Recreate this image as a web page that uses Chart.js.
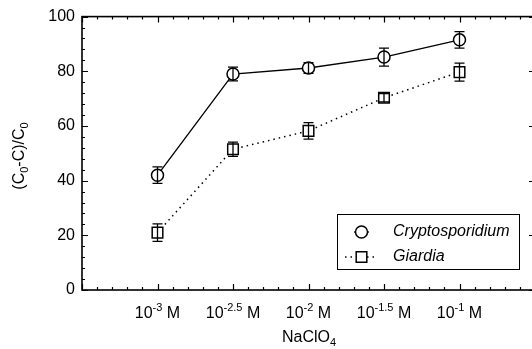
<!DOCTYPE html>
<html>
<head>
<meta charset="utf-8">
<script src="https://cdn.jsdelivr.net/npm/chart.js@4"></script>
<style>
html,body{margin:0;padding:0;background:#fff;overflow:hidden;}
#wrap{width:545px;height:349px;}
</style>
</head>
<body>
<div id="wrap"><canvas id="c" width="545" height="349"></canvas></div>
<script>
// ---- data ----
const xExponents = [-3, -2.5, -2, -1.5, -1];
const xTickLabels = ['-3', '-2.5', '-2', '-1.5', '-1'];
const cryptoValues = [42, 79, 81.2, 85.2, 91.5];
const cryptoErrors = [3, 2.5, 2, 3.3, 3];
const giardiaValues = [21, 51.5, 58.2, 70.3, 79.7];
const giardiaErrors = [3.2, 2.6, 3, 1.5, 3.3];
const seriesNames = ['Cryptosporidium', 'Giardia'];
const yTicks = [0, 20, 40, 60, 80, 100];

const FONT = '"Liberation Sans", Arial, sans-serif';

function pts(vals){ return xExponents.map((x,i)=>({x:x, y:vals[i]})); }

const errorsByDataset = [cryptoErrors, giardiaErrors];

const axesPlugin = {
  id: 'axesPlugin',
  afterDatasetsDraw(chart){
    const ctx = chart.ctx;
    const xs = chart.scales.x, ys = chart.scales.y;
    ctx.save();
    ctx.strokeStyle = '#000';
    ctx.lineWidth = 1.3;
    chart.data.datasets.forEach((ds, di) => {
      const errs = errorsByDataset[di];
      ds.data.forEach((p, i) => {
        const px = xs.getPixelForValue(p.x);
        const yt = ys.getPixelForValue(p.y + errs[i]);
        const yb = ys.getPixelForValue(p.y - errs[i]);
        ctx.beginPath();
        ctx.moveTo(px, yt); ctx.lineTo(px, yb);
        ctx.moveTo(px - 5, yt); ctx.lineTo(px + 5, yt);
        ctx.moveTo(px - 5, yb); ctx.lineTo(px + 5, yb);
        ctx.stroke();
      });
    });
    ctx.restore();
  },
  afterDraw(chart){
    const ctx = chart.ctx;
    const a = chart.chartArea;
    const xs = chart.scales.x, ys = chart.scales.y;
    ctx.save();
    ctx.strokeStyle = '#000';
    ctx.fillStyle = '#000';
    ctx.lineWidth = 1.6;
    ctx.strokeRect(a.left, a.top, a.right - a.left, a.bottom - a.top);
    ctx.lineWidth = 1.2;
    ctx.beginPath();
    for (let v = 0; v <= 100; v += 4) {
      const y = Math.round(ys.getPixelForValue(v)) + 0.5;
      const len = (v % 20 === 0) ? 6 : 3;
      ctx.moveTo(a.left, y); ctx.lineTo(a.left + len, y);
      ctx.moveTo(a.right, y); ctx.lineTo(a.right - len, y);
    }
    for (let k = -35; k <= -5; k++) {
      const x = Math.round(xs.getPixelForValue(k / 10)) + 0.5;
      const len = (k % 5 === 0) ? 6 : 3;
      ctx.moveTo(x, a.bottom); ctx.lineTo(x, a.bottom - len);
      ctx.moveTo(x, a.top); ctx.lineTo(x, a.top + len);
    }
    ctx.stroke();

    const base = 318;
    xExponents.forEach((xv, i) => {
      const cx = xs.getPixelForValue(xv);
      ctx.font = '16px ' + FONT;
      const w10 = ctx.measureText('10').width;
      ctx.font = '11px ' + FONT;
      const wexp = ctx.measureText(xTickLabels[i]).width;
      ctx.font = '16px ' + FONT;
      const wM = ctx.measureText(' M').width;
      const total = w10 + wexp + wM;
      let x0 = cx - total / 2;
      ctx.textAlign = 'left';
      ctx.textBaseline = 'alphabetic';
      ctx.font = '16px ' + FONT;
      ctx.fillText('10', x0, base);
      ctx.font = '11px ' + FONT;
      ctx.fillText(xTickLabels[i], x0 + w10, base - 7);
      ctx.font = '16px ' + FONT;
      ctx.fillText(' M', x0 + w10 + wexp, base);
    });

    ctx.font = '16px ' + FONT;
    const wN = ctx.measureText('NaClO').width;
    ctx.font = '11px ' + FONT;
    const w4 = ctx.measureText('4').width;
    const tx0 = 309 - (wN + w4) / 2;
    ctx.font = '16px ' + FONT;
    ctx.fillText('NaClO', tx0, 342);
    ctx.font = '11px ' + FONT;
    ctx.fillText('4', tx0 + wN, 346);

    ctx.save();
    ctx.translate(24, 156);
    ctx.rotate(-Math.PI / 2);
    const parts = [['(C',16,0],['0',11,4],['-C)/C',16,0],['0',11,4]];
    let tw = 0;
    parts.forEach(p => { ctx.font = p[1] + 'px ' + FONT; tw += ctx.measureText(p[0]).width; });
    let px = -tw / 2;
    parts.forEach(p => {
      ctx.font = p[1] + 'px ' + FONT;
      ctx.fillText(p[0], px, p[2]);
      px += ctx.measureText(p[0]).width;
    });
    ctx.restore();

    ctx.lineWidth = 1;
    ctx.strokeRect(337.5, 214.5, 182, 55);
    const rows = [
      {y: 232, name: seriesNames[0], ds: chart.data.datasets[0], x1: 354, x2: 369},
      {y: 257, name: seriesNames[1], ds: chart.data.datasets[1], x1: 345, x2: 377}
    ];
    rows.forEach(r => {
      ctx.save();
      ctx.lineWidth = r.ds.borderWidth;
      ctx.setLineDash(r.ds.borderDash || []);
      ctx.beginPath();
      ctx.moveTo(r.x1, r.y); ctx.lineTo(r.x2, r.y);
      ctx.stroke();
      ctx.restore();
      ctx.save();
      ctx.fillStyle = '#fff';
      ctx.strokeStyle = '#000';
      ctx.lineWidth = r.ds.pointBorderWidth;
      ctx.beginPath();
      if (r.ds.pointStyle === 'circle') {
        ctx.arc(361.5, r.y, r.ds.pointRadius, 0, Math.PI * 2);
      } else {
        const s = Math.SQRT1_2 * r.ds.pointRadius;
        ctx.rect(361.5 - s, r.y - s, 2 * s, 2 * s);
      }
      ctx.fill(); ctx.stroke();
      ctx.restore();
      ctx.font = 'italic 16px ' + FONT;
      ctx.textBaseline = 'middle';
      ctx.fillStyle = '#000';
      ctx.fillText(r.name, 393, r.y);
    });
    ctx.restore();
  }
};

new Chart(document.getElementById('c'), {
  type: 'scatter',
  data: {
    datasets: [
      {
        label: seriesNames[0],
        data: pts(cryptoValues),
        showLine: true,
        borderColor: '#000',
        borderWidth: 1.3,
        pointStyle: 'circle',
        pointRadius: 6,
        pointBorderWidth: 1.5,
        pointBackgroundColor: '#fff',
        pointBorderColor: '#000'
      },
      {
        label: seriesNames[1],
        data: pts(giardiaValues),
        showLine: true,
        borderColor: '#000',
        borderWidth: 1.5,
        borderDash: [1.5, 4],
        pointStyle: 'rect',
        pointRadius: 7.5,
        pointBorderWidth: 1.5,
        pointBackgroundColor: '#fff',
        pointBorderColor: '#000'
      }
    ]
  },
  options: {
    responsive: false,
    animation: false,
    events: [],
    layout: { padding: { left: 0, top: 15, right: 10, bottom: 0 } },
    plugins: { legend: { display: false }, tooltip: { enabled: false } },
    scales: {
      x: {
        type: 'linear', min: -3.5, max: -0.5,
        grid: { display: false }, border: { display: false },
        ticks: { display: false },
        afterFit(s){ s.height = 59; }
      },
      y: {
        type: 'linear', min: 0, max: 100,
        grid: { display: false, drawTicks: false }, border: { display: false },
        afterBuildTicks(s){ s.ticks = yTicks.map(v => ({value: v})); },
        ticks: { color: '#000', padding: 7, font: { family: FONT, size: 16 } },
        afterFit(s){ s.width = 82; }
      }
    }
  },
  plugins: [axesPlugin]
});
</script>
</body>
</html>
